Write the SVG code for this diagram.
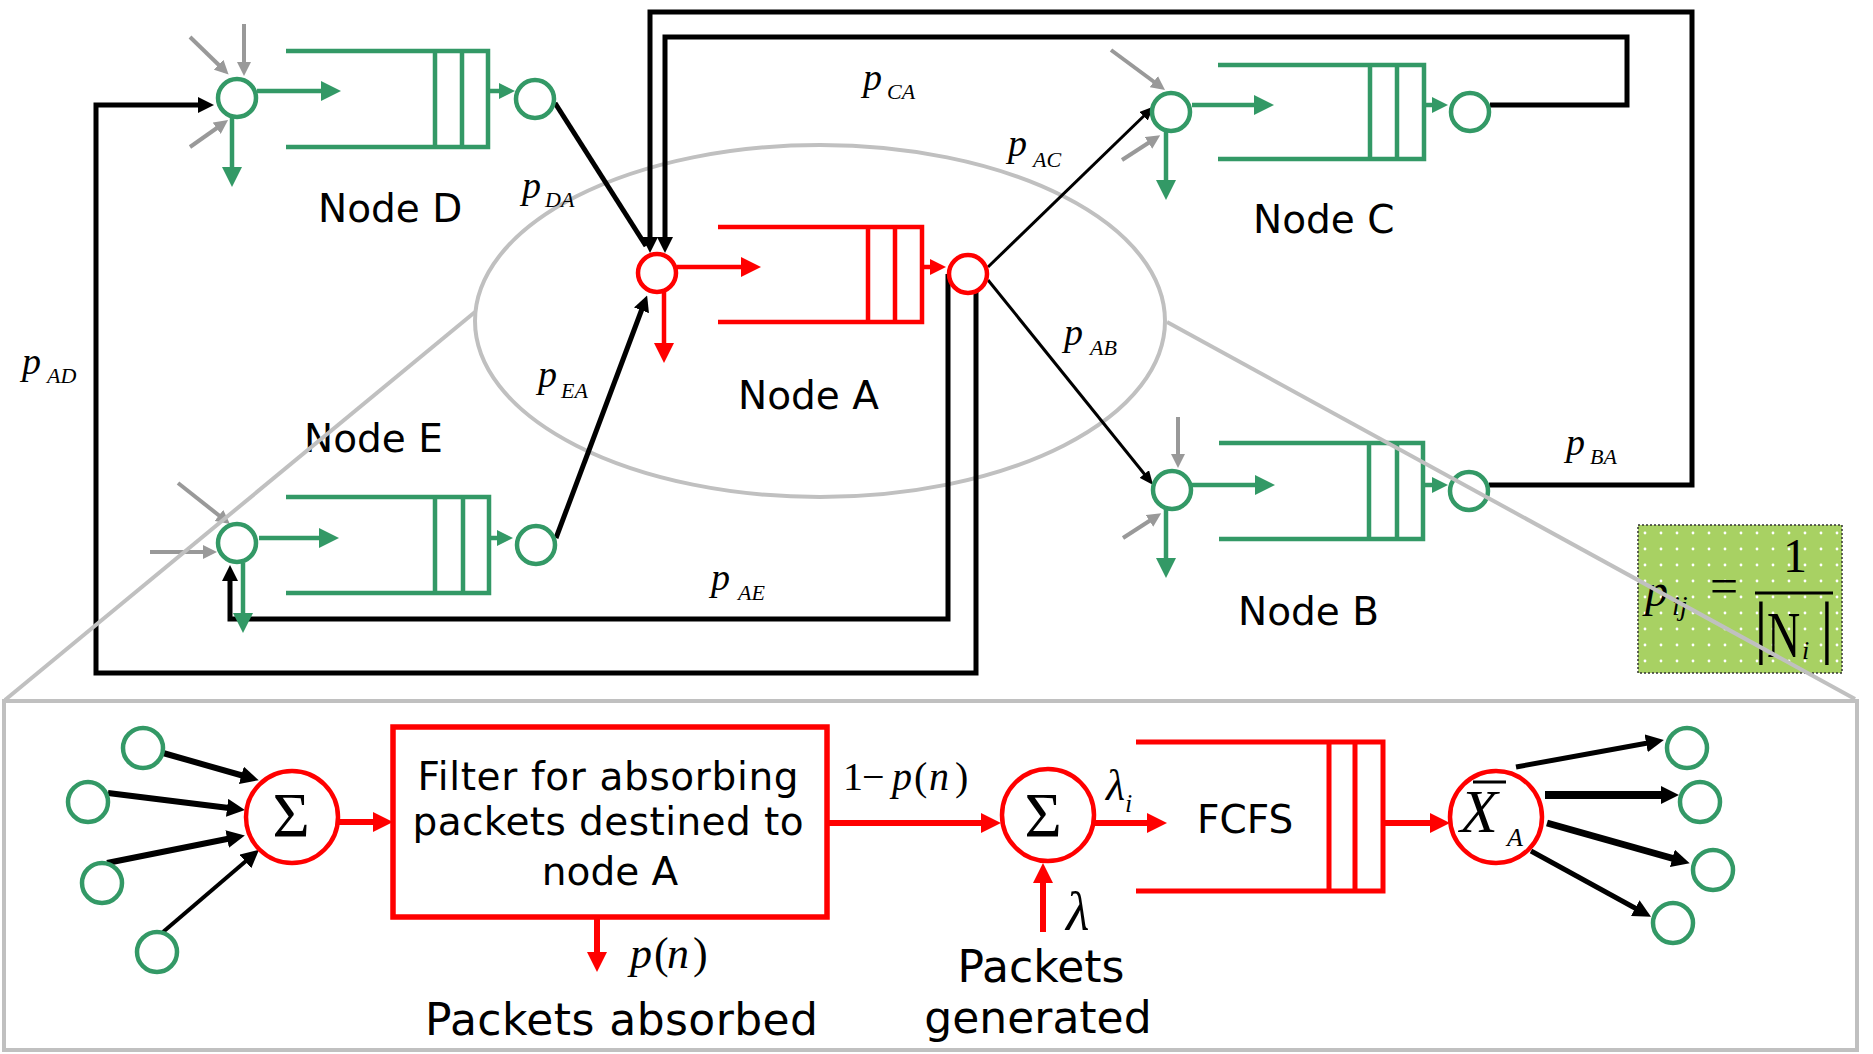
<svg xmlns="http://www.w3.org/2000/svg" width="1873" height="1054" viewBox="0 0 1873 1054">
<defs>
<style>
.g{fill:none;stroke:#339966;stroke-width:4.5}
.gc{fill:#fff;stroke:#339966;stroke-width:4.5}
.r{fill:none;stroke:#ff0000;stroke-width:4.5}
.rc{fill:#fff;stroke:#ff0000;stroke-width:4.5}
.rt{fill:none;stroke:#ff0000;stroke-width:6}
.k{fill:none;stroke:#000;stroke-width:5}
.kt{fill:none;stroke:#000;stroke-width:3}
.gy{fill:none;stroke:#999999;stroke-width:4}
.cal{fill:none;stroke:#c0c0c0;stroke-width:4}
.lbl{font-family:"DejaVu Sans",Verdana,sans-serif;font-size:39px;fill:#000}
.big{font-size:44px}
.m{font-family:"Liberation Serif","Times New Roman",serif;fill:#000}
.mi{font-style:italic}
.p{font-size:38px}
.s{font-size:22px}
</style>
<marker id="mG" markerUnits="userSpaceOnUse" markerWidth="20" markerHeight="20" viewBox="0 0 20 20" refX="13" refY="10" orient="auto"><path d="M0,0L20,10L0,20z" fill="#339966"/></marker>
<marker id="mGs" markerUnits="userSpaceOnUse" markerWidth="16" markerHeight="16" viewBox="0 0 16 16" refX="10" refY="8" orient="auto"><path d="M0,0L16,8L0,16z" fill="#339966"/></marker>
<marker id="mR" markerUnits="userSpaceOnUse" markerWidth="20" markerHeight="20" viewBox="0 0 20 20" refX="13" refY="10" orient="auto"><path d="M0,0L20,10L0,20z" fill="#ff0000"/></marker>
<marker id="mRs" markerUnits="userSpaceOnUse" markerWidth="16" markerHeight="16" viewBox="0 0 16 16" refX="10" refY="8" orient="auto"><path d="M0,0L16,8L0,16z" fill="#ff0000"/></marker>
<marker id="mK" markerUnits="userSpaceOnUse" markerWidth="16" markerHeight="16" viewBox="0 0 16 16" refX="10" refY="8" orient="auto"><path d="M0,0L16,8L0,16z" fill="#000"/></marker>
<marker id="mKt" markerUnits="userSpaceOnUse" markerWidth="14" markerHeight="12" viewBox="0 0 14 12" refX="9" refY="6" orient="auto"><path d="M0,0L14,6L0,12z" fill="#000"/></marker>
<marker id="mKb" markerUnits="userSpaceOnUse" markerWidth="18" markerHeight="18" viewBox="0 0 18 18" refX="10" refY="9" orient="auto"><path d="M0,0L18,9L0,18z" fill="#000"/></marker>
<marker id="mY" markerUnits="userSpaceOnUse" markerWidth="14" markerHeight="14" viewBox="0 0 14 14" refX="9" refY="7" orient="auto"><path d="M0,0L14,7L0,14z" fill="#999999"/></marker>
<pattern id="dots" x="1637" y="525" width="16" height="16" patternUnits="userSpaceOnUse"><rect width="16" height="16" fill="#a8d163"/><circle cx="8" cy="8" r="1.4" fill="#ffffff"/></pattern>
</defs>
<rect width="1873" height="1054" fill="#fff"/>

<g id="callout">
<ellipse cx="820" cy="321" rx="345" ry="176" class="cal"/>
<rect x="4" y="701" width="1853" height="349" class="cal"/>
</g>

<g id="connectors">
<path class="k" d="M976,292 V673 H96 V105 H208" marker-end="url(#mK)"/>
<path class="k" d="M948,274 V619 H230 V571" marker-end="url(#mK)"/>
<path class="k" d="M1490,105 H1627 V37 H665 V247" marker-end="url(#mK)"/>
<path class="k" d="M1489,485 H1692 V12 H650 V247" marker-end="url(#mK)"/>
<path class="k" d="M555,103 L646,246"/>
<path class="k" d="M556,538 L645,301" marker-end="url(#mK)"/>
<path class="kt" d="M988,267 L1150,110" marker-end="url(#mKt)"/>
<path class="kt" d="M988,280 L1150,481" marker-end="url(#mKt)"/>
<path class="k" style="stroke-width:6" d="M163,753 L251,778" marker-end="url(#mKb)"/>
<path class="k" style="stroke-width:6" d="M108,793 L237,809" marker-end="url(#mKb)"/>
<path class="k" style="stroke-width:6" d="M107,863 L237,837" marker-end="url(#mKb)"/>
<path class="k" style="stroke-width:4" d="M163,932 L253,855" marker-end="url(#mKb)"/>
<path class="k" style="stroke-width:5" d="M1516,767 L1656,741.5" marker-end="url(#mKb)"/>
<path class="k" style="stroke-width:8" d="M1545,795 H1671" marker-end="url(#mKb)"/>
<path class="k" style="stroke-width:7" d="M1547,823 L1682,861" marker-end="url(#mKb)"/>
<path class="k" style="stroke-width:5" d="M1531,851 L1644,913" marker-end="url(#mKb)"/>
<path class="rt" d="M339,822 H386" marker-end="url(#mR)"/>
<path class="rt" d="M597,919 V965" marker-end="url(#mR)"/>
<path class="rt" d="M829,823 H994" marker-end="url(#mR)"/>
<path class="rt" d="M1095,823 H1160" marker-end="url(#mR)"/>
<path class="rt" d="M1043,932 V870" marker-end="url(#mR)"/>
<path class="rt" d="M1385,823 H1443" marker-end="url(#mR)"/>
</g>

<g id="node-D">
<path class="gy" d="M190,37 L225,71" marker-end="url(#mY)"/>
<path class="gy" d="M244,24 V71" marker-end="url(#mY)"/>
<path class="gy" d="M190,147 L224,123" marker-end="url(#mY)"/>
<path class="g" d="M232,117 V180" marker-end="url(#mG)"/>
<path class="g" d="M257,91 H334" marker-end="url(#mG)"/>
<path class="g" d="M286,51 H488 V147 H286 M435,51 V147 M462,51 V147"/>
<path class="g" d="M488,91 H509" marker-end="url(#mGs)"/>
<circle class="gc" cx="237" cy="98" r="19"/>
<circle class="gc" cx="535" cy="99" r="19"/>
<text class="lbl" x="318" y="222">Node D</text>
</g>

<g id="node-C">
<path class="gy" d="M1111,50 L1161,87" marker-end="url(#mY)"/>
<path class="gy" d="M1122,160 L1156,138" marker-end="url(#mY)"/>
<path class="g" d="M1166,131 V193" marker-end="url(#mG)"/>
<path class="g" d="M1192,105 H1267" marker-end="url(#mG)"/>
<path class="g" d="M1218,65 H1424 V159 H1218 M1370,65 V159 M1397,65 V159"/>
<path class="g" d="M1424,105 H1442" marker-end="url(#mGs)"/>
<circle class="gc" cx="1171" cy="112" r="19"/>
<circle class="gc" cx="1470" cy="112" r="19"/>
<text class="lbl" x="1253" y="233">Node C</text>
</g>

<g id="node-B">
<path class="gy" d="M1178,417 V463" marker-end="url(#mY)"/>
<path class="gy" d="M1123,538 L1157,516" marker-end="url(#mY)"/>
<path class="g" d="M1166,509 V571" marker-end="url(#mG)"/>
<path class="g" d="M1192,485 H1268" marker-end="url(#mG)"/>
<path class="g" d="M1219,443 H1423 V539 H1219 M1369,443 V539 M1397,443 V539"/>
<path class="g" d="M1423,485 H1442" marker-end="url(#mGs)"/>
<circle class="gc" cx="1172" cy="490" r="19"/>
<circle class="gc" cx="1469" cy="491" r="19"/>
<text class="lbl" x="1238" y="625">Node B</text>
</g>

<g id="node-E">
<path class="gy" d="M178,483 L226,521" marker-end="url(#mY)"/>
<path class="gy" d="M150,552 H212" marker-end="url(#mY)"/>
<path class="g" d="M243,563 V626" marker-end="url(#mG)"/>
<path class="g" d="M259,538 H332" marker-end="url(#mG)"/>
<path class="g" d="M286,497 H489 V593 H286 M435,497 V593 M463,497 V593"/>
<path class="g" d="M489,538 H507" marker-end="url(#mGs)"/>
<circle class="gc" cx="237" cy="543" r="19"/>
<circle class="gc" cx="536" cy="545" r="19"/>
<text class="lbl" x="304" y="452">Node E</text>
</g>

<g id="node-A">
<path class="r" d="M664,292 V356" marker-end="url(#mR)"/>
<path class="r" d="M677,267 H754" marker-end="url(#mR)"/>
<path class="r" d="M718,227 H922 V322 H718 M868,227 V322 M895,227 V322"/>
<path class="r" d="M922,267 H940" marker-end="url(#mRs)"/>
<circle class="rc" cx="657" cy="273" r="19"/>
<circle class="rc" cx="968" cy="274" r="19"/>
<text class="lbl" x="738" y="409">Node A</text>
</g>

<g id="edge-labels" class="m mi">
<text class="p" x="522" y="198">p<tspan class="s" dx="4" dy="9">DA</tspan></text>
<text class="p" x="863" y="90">p<tspan class="s" dx="5" dy="9">CA</tspan></text>
<text class="p" x="1008" y="156">p<tspan class="s" dx="6" dy="11">AC</tspan></text>
<text class="p" x="1064" y="345">p<tspan class="s" dx="7" dy="10">AB</tspan></text>
<text class="p" x="711" y="590">p<tspan class="s" dx="8" dy="10">AE</tspan></text>
<text class="p" x="22" y="374">p<tspan class="s" dx="6" dy="9">AD</tspan></text>
<text class="p" x="538" y="387">p<tspan class="s" dx="4" dy="11">EA</tspan></text>
<text class="p" x="1566" y="455">p<tspan class="s" dx="5" dy="9">BA</tspan></text>
</g>

<g id="formula">
<rect x="1638" y="525" width="204" height="148" fill="url(#dots)" stroke="#333" stroke-width="1.5" stroke-dasharray="2 2"/>
<text class="m mi" x="1645" y="606" font-size="46">p</text>
<text class="m mi" x="1672" y="615" font-size="28">ij</text>
<text class="m" x="1710" y="603" font-size="50">=</text>
<text class="m" x="1795" y="572" font-size="48" text-anchor="middle">1</text>
<line x1="1755" y1="593" x2="1833" y2="593" stroke="#000" stroke-width="3"/>
<text class="m" x="1761" y="650" font-size="69" text-anchor="middle">|</text>
<text class="m" x="1827" y="650" font-size="69" text-anchor="middle">|</text>
<text class="m" font-size="46" transform="translate(1767,657) scale(1,1.42)">N</text>
<text class="m mi" x="1802" y="659" font-size="26">i</text>
</g>

<g id="in-circles">
<circle class="gc" cx="143" cy="748" r="20"/>
<circle class="gc" cx="88" cy="802" r="20"/>
<circle class="gc" cx="102" cy="883" r="20"/>
<circle class="gc" cx="157" cy="952" r="20"/>
</g>

<g id="sum-in">
<circle class="rc" cx="292" cy="817" r="46"/>
<text class="m" x="291" y="837" font-size="64" text-anchor="middle">Σ</text>
</g>

<g id="filter">
<rect x="393" y="727" width="434" height="190" class="r" style="stroke-width:5.5"/>
<text class="lbl" x="608" y="790" text-anchor="middle" textLength="381" lengthAdjust="spacing">Filter for absorbing</text>
<text class="lbl" x="608" y="835" text-anchor="middle" textLength="391" lengthAdjust="spacing">packets destined to</text>
<text class="lbl" x="610" y="885" text-anchor="middle">node A</text>
</g>

<g id="absorbed">
<text class="m" y="968" font-size="44"><tspan class="mi" x="630">p</tspan><tspan x="654">(</tspan><tspan class="mi" x="667">n</tspan><tspan x="693">)</tspan></text>
<text class="lbl big" x="425" y="1035" textLength="393" lengthAdjust="spacing">Packets absorbed</text>
</g>

<g id="pass-label">
<text class="m" y="790" font-size="40"><tspan x="843">1</tspan><tspan x="862">−</tspan><tspan class="mi" x="892">p</tspan><tspan x="914">(</tspan><tspan class="mi" x="929">n</tspan><tspan x="955">)</tspan></text>
</g>

<g id="sum-gen">
<circle class="rc" cx="1048" cy="815" r="46"/>
<text class="m" x="1043" y="837" font-size="64" text-anchor="middle">Σ</text>
<text class="m mi" x="1106" y="800" font-size="44">λ<tspan font-size="26" dx="0" dy="12">i</tspan></text>
<text class="m mi" x="1066" y="930" font-size="54">λ</text>
<text class="lbl big" x="1041" y="982" text-anchor="middle">Packets</text>
<text class="lbl big" x="1038" y="1033" text-anchor="middle">generated</text>
</g>

<g id="fcfs">
<path class="r" d="M1136,742 H1383 V891 H1136 M1329,742 V891 M1355,742 V891" style="stroke-width:5"/>
<text class="lbl" x="1197" y="833" font-size="38">FCFS</text>
</g>

<g id="server-out">
<circle class="rc" cx="1496" cy="817" r="46"/>
<text class="m mi" x="1460" y="832" font-size="62">X</text>
<line x1="1473" y1="782" x2="1506" y2="782" stroke="#000" stroke-width="3"/>
<text class="m mi" x="1507" y="846" font-size="26">A</text>
</g>

<g id="out-circles">
<circle class="gc" cx="1687" cy="748" r="20"/>
<circle class="gc" cx="1700" cy="802" r="20"/>
<circle class="gc" cx="1713" cy="870" r="20"/>
<circle class="gc" cx="1673" cy="923" r="20"/>
</g>

<g id="callout-lines">
<path class="cal" d="M475,312 L5,700"/>
<path class="cal" d="M1167,322 L1855,699"/>
</g>
</svg>
